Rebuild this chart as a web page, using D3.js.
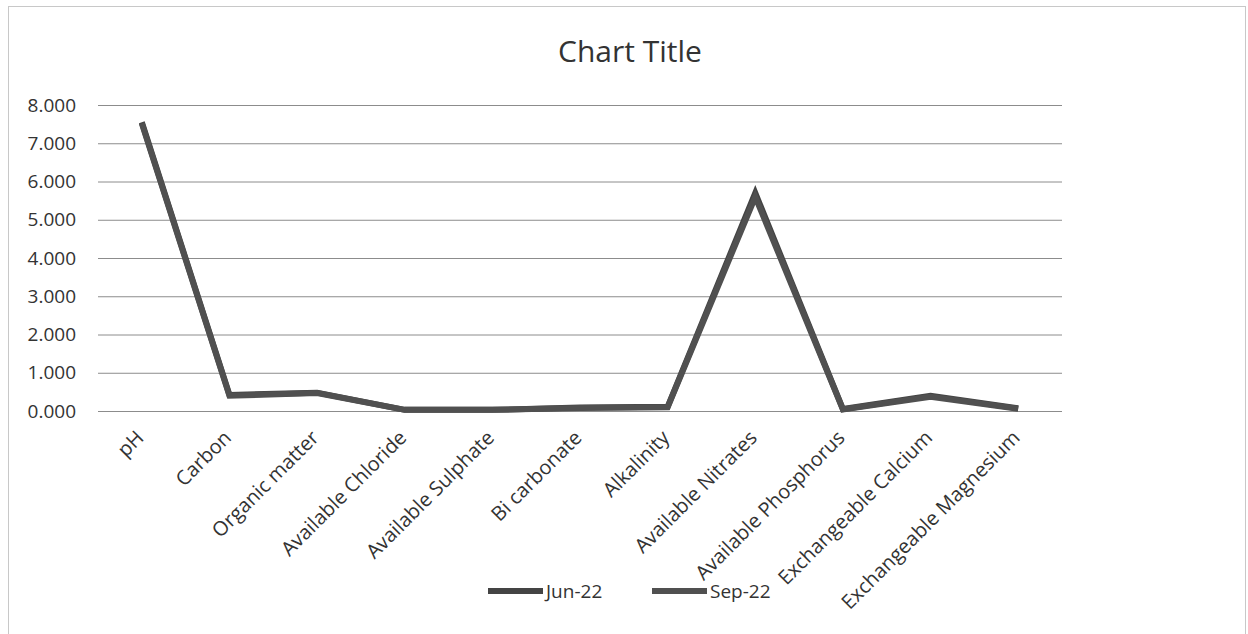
<!DOCTYPE html>
<html>
<head>
<meta charset="utf-8">
<script src="https://cdn.jsdelivr.net/npm/d3@7"></script>
<style>
  body { margin: 0; background: #fff; }
  text { font-family: "Open Sans", sans-serif; fill: #333; }
</style>
</head>
<body>
<script>
var categories = ["pH", "Carbon", "Organic matter", "Available Chloride", "Available Sulphate",
                  "Bi carbonate", "Alkalinity", "Available Nitrates", "Available Phosphorus",
                  "Exchangeable Calcium", "Exchangeable Magnesium"];
var jun22 = [7.55, 0.42, 0.48, 0.03, 0.03, 0.09, 0.11, 5.70, 0.05, 0.40, 0.07];
var sep22 = [7.52, 0.40, 0.47, 0.03, 0.03, 0.08, 0.10, 5.60, 0.04, 0.37, 0.06];
var yTicks = [0, 1, 2, 3, 4, 5, 6, 7, 8];
var seriesNames = ["Jun-22", "Sep-22"];

var series = [
  {name: seriesNames[0], values: jun22, color: "#444"},
  {name: seriesNames[1], values: sep22, color: "#505050"}
];

var W = 1248, H = 634;
var margin = {top: 105, right: 186, bottom: 223, left: 98};
var width  = W - margin.left - margin.right,
    height = H - margin.top - margin.bottom;

var svg = d3.select("body").append("svg")
  .attr("width", W)
  .attr("height", H);

// chart frame
svg.append("rect")
  .attr("x", 8.5).attr("y", 6.5)
  .attr("width", 1237).attr("height", 640)
  .attr("fill", "none")
  .attr("stroke", "#c8c8c8");

svg.append("text")
  .attr("x", 630).attr("y", 62)
  .attr("text-anchor", "middle")
  .style("font-size", "30px")
  .text("Chart Title");

var x = d3.scaleBand().domain(categories).range([0, width]);
var y = d3.scaleLinear().domain([0, 8]).range([height, 0]);

var g = svg.append("g")
  .attr("transform", "translate(" + margin.left + "," + margin.top + ")");

// gridlines + y labels
var yAxis = g.append("g")
  .call(d3.axisLeft(y).tickValues(yTicks).tickSize(-width).tickPadding(22)
          .tickFormat(d3.format(".3f")));
yAxis.select(".domain").remove();
yAxis.selectAll("line").attr("stroke", "#8c8c8c").attr("stroke-width", 1);
yAxis.selectAll("text").style("font-size", "19px").attr("fill", "#333");

// x labels
var xAxis = g.append("g")
  .attr("transform", "translate(0," + height + ")")
  .call(d3.axisBottom(x).tickSize(0).tickPadding(0));
xAxis.select(".domain").remove();
xAxis.selectAll("text")
  .style("font-size", "20px")
  .attr("fill", "#333")
  .style("text-anchor", "end")
  .attr("dy", null)
  .attr("y", 0)
  .attr("transform", "translate(3,28) rotate(-45)");

var line = d3.line()
  .x(function(d, i) { return x(categories[i]) + x.bandwidth() / 2; })
  .y(function(d) { return y(d); });

g.selectAll(".series")
  .data(series)
  .enter().append("path")
  .attr("class", "series")
  .attr("d", function(s) { return line(s.values); })
  .attr("fill", "none")
  .attr("stroke", function(s) { return s.color; })
  .attr("stroke-width", 6)
  .attr("stroke-linejoin", "miter");

// legend
var legend = svg.append("g").attr("transform", "translate(488,591)");
var item = legend.selectAll(".item")
  .data(series)
  .enter().append("g")
  .attr("transform", function(d, i) { return "translate(" + (i * 164) + ",0)"; });
item.append("line")
  .attr("x1", 0).attr("x2", 55)
  .attr("stroke", function(d) { return d.color; })
  .attr("stroke-width", 6);
item.append("text")
  .attr("x", 58).attr("dy", "0.35em")
  .style("font-size", "19px")
  .text(function(d) { return d.name; });
</script>
</body>
</html>
